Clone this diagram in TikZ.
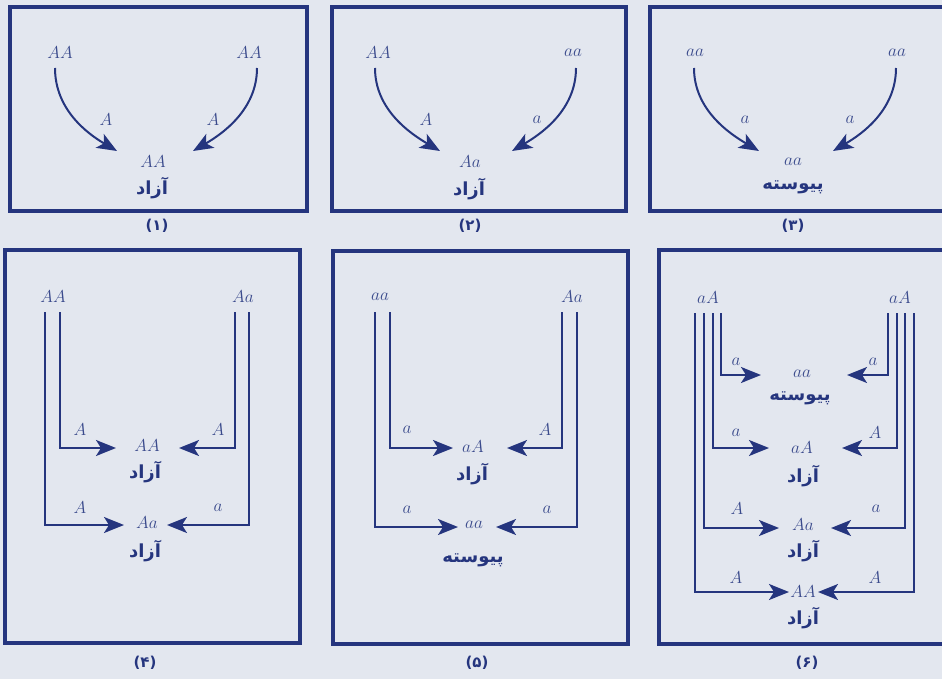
\documentclass[tikz,border=0pt]{standalone}
\usepackage{fontspec}
\usetikzlibrary{arrows.meta}
\TeXXeTstate=1
\newfontfamily\arabicfont[Script=Arabic]{DejaVu Sans}
\newfontfamily\capfont{DejaVu Sans}
\definecolor{navy}{HTML}{25357E}
\definecolor{labc}{HTML}{3A4A8C}
\definecolor{bgc}{HTML}{E3E7EF}
\tikzset{
  panel/.style={draw=navy, line width=3.4pt},
  conn/.style={draw=navy, line width=2pt, -{Stealth[length=20pt,width=16pt,inset=5pt]}},
  lab/.style={text=labc, font=\fontsize{16}{18}\selectfont, inner sep=0pt},
  fa/.style={text=navy, font=\arabicfont\bfseries\fontsize{18}{21}\selectfont, inner sep=0pt},
  capt/.style={text=navy, font=\capfont\bfseries\fontsize{15}{18}\selectfont, inner sep=0pt}
}
\begin{document}
\begin{tikzpicture}[x=1pt,y=-1pt]
\useasboundingbox (0,0) rectangle (942,679);
\fill[bgc] (0,0) rectangle (942,679);

% ---------- panel boxes
\draw[panel] (10,7) rectangle (307,211);
\draw[panel] (332,7) rectangle (626,211);
\draw[panel] (955,7) -- (650,7) -- (650,211) -- (955,211);
\draw[panel] (5,250) rectangle (300,643);
\draw[panel] (333,251) rectangle (628,644);
\draw[panel] (955,250) -- (659,250) -- (659,644) -- (955,644);

% ---------- captions
\node[capt] (cap1) at (157,226) {(۱)};
\node[capt] (cap2) at (470,226) {(۲)};
\node[capt] (cap3) at (793,226) {(۳)};
\node[capt] (cap4) at (145,663) {(۴)};
\node[capt] (cap5) at (477,663) {(۵)};
\node[capt] (cap6) at (807,663) {(۶)};

% ================= panel 1
\node[lab] (p1l) at (60,53) {$AA$};
\node[lab] (p1r) at (249,53) {$AA$};
\node[lab] (p1c) at (153,162) {$AA$};
\node[fa] (p1w) at (152,188) {\beginR آزاد\endR};
\node[lab] (p1la) at (106,120) {$A$};
\node[lab] (p1ra) at (213,120) {$A$};
\coordinate (p1ls) at (55,68);  \coordinate (p1lt) at (117,151);
\coordinate (p1rs) at (257,68); \coordinate (p1rt) at (193,151);
\draw[conn] (p1ls) .. controls (55,110) and (88,134) .. (p1lt);
\draw[conn] (p1rs) .. controls (257,110) and (222,134) .. (p1rt);

% ================= panel 2
\node[lab] (p2l) at (378,53) {$AA$};
\node[lab] (p2r) at (573,53) {$aa$};
\node[lab] (p2c) at (470,162) {$Aa$};
\node[fa] (p2w) at (469,189) {\beginR آزاد\endR};
\node[lab] (p2la) at (426,120) {$A$};
\node[lab] (p2ra) at (537,120) {$a$};
\coordinate (p2ls) at (375,68); \coordinate (p2lt) at (440,151);
\coordinate (p2rs) at (576,68); \coordinate (p2rt) at (512,151);
\draw[conn] (p2ls) .. controls (375,110) and (411,134) .. (p2lt);
\draw[conn] (p2rs) .. controls (576,110) and (541,134) .. (p2rt);

% ================= panel 3
\node[lab] (p3l) at (695,53) {$aa$};
\node[lab] (p3r) at (897,53) {$aa$};
\node[lab] (p3c) at (793,162) {$aa$};
\node[fa] (p3w) at (793,187) {\beginR پیوسته\endR};
\node[lab] (p3la) at (745,120) {$a$};
\node[lab] (p3ra) at (850,120) {$a$};
\coordinate (p3ls) at (694,68); \coordinate (p3lt) at (759,151);
\coordinate (p3rs) at (896,68); \coordinate (p3rt) at (833,151);
\draw[conn] (p3ls) .. controls (694,110) and (730,134) .. (p3lt);
\draw[conn] (p3rs) .. controls (896,110) and (862,134) .. (p3rt);

% ================= panel 4
\node[lab] (p4l) at (53,297) {$AA$};
\node[lab] (p4r) at (243,297) {$Aa$};
\node[lab] (p4c1) at (147,446) {$AA$};
\node[fa] (p4w1) at (145,472) {\beginR آزاد\endR};
\node[lab] (p4c2) at (147,523) {$Aa$};
\node[fa] (p4w2) at (145,551) {\beginR آزاد\endR};
\node[lab] (p4a1) at (80,430) {$A$};
\node[lab] (p4b1) at (218,430) {$A$};
\node[lab] (p4a2) at (80,508) {$A$};
\node[lab] (p4b2) at (218,508) {$a$};
\coordinate (p4L1) at (60,312);  \coordinate (p4T1) at (116,448);
\coordinate (p4L2) at (45,312);  \coordinate (p4T2) at (124,525);
\coordinate (p4R1) at (235,312); \coordinate (p4U1) at (179,448);
\coordinate (p4R2) at (249,312); \coordinate (p4U2) at (167,525);
\draw[conn] (p4L1) |- (p4T1);
\draw[conn] (p4L2) |- (p4T2);
\draw[conn] (p4R1) |- (p4U1);
\draw[conn] (p4R2) |- (p4U2);

% ================= panel 5
\node[lab] (p5l) at (380,297) {$aa$};
\node[lab] (p5r) at (572,297) {$Aa$};
\node[lab] (p5c1) at (473,447) {$aA$};
\node[fa] (p5w1) at (472,474) {\beginR آزاد\endR};
\node[lab] (p5c2) at (474,525) {$aa$};
\node[fa] (p5w2) at (473,560) {\beginR پیوسته\endR};
\node[lab] (p5a1) at (407,430) {$a$};
\node[lab] (p5b1) at (545,430) {$A$};
\node[lab] (p5a2) at (407,510) {$a$};
\node[lab] (p5b2) at (547,510) {$a$};
\coordinate (p5L1) at (390,312); \coordinate (p5T1) at (453,448);
\coordinate (p5L2) at (375,312); \coordinate (p5T2) at (458,527);
\coordinate (p5R1) at (562,312); \coordinate (p5U1) at (507,448);
\coordinate (p5R2) at (577,312); \coordinate (p5U2) at (496,527);
\draw[conn] (p5L1) |- (p5T1);
\draw[conn] (p5L2) |- (p5T2);
\draw[conn] (p5R1) |- (p5U1);
\draw[conn] (p5R2) |- (p5U2);

% ================= panel 6
\node[lab] (p6l) at (708,298) {$aA$};
\node[lab] (p6r) at (900,298) {$aA$};
\node[lab] (p6c1) at (802,374) {$aa$};
\node[fa] (p6w1) at (800,398) {\beginR پیوسته\endR};
\node[lab] (p6c2) at (802,448) {$aA$};
\node[fa] (p6w2) at (803,476) {\beginR آزاد\endR};
\node[lab] (p6c3) at (803,525) {$Aa$};
\node[fa] (p6w3) at (803,551) {\beginR آزاد\endR};
\node[lab] (p6c4) at (803,592) {$AA$};
\node[fa] (p6w4) at (803,618) {\beginR آزاد\endR};
\node[lab] (p6a1) at (736,362) {$a$};
\node[lab] (p6b1) at (873,362) {$a$};
\node[lab] (p6a2) at (736,433) {$a$};
\node[lab] (p6b2) at (875,433) {$A$};
\node[lab] (p6a3) at (737,509) {$A$};
\node[lab] (p6b3) at (876,509) {$a$};
\node[lab] (p6a4) at (736,578) {$A$};
\node[lab] (p6b4) at (875,578) {$A$};
\coordinate (p6L1) at (721,313); \coordinate (p6T1) at (761,375);
\coordinate (p6L2) at (713,313); \coordinate (p6T2) at (769,448);
\coordinate (p6L3) at (704,313); \coordinate (p6T3) at (779,528);
\coordinate (p6L4) at (695,313); \coordinate (p6T4) at (789,592);
\coordinate (p6R1) at (888,313); \coordinate (p6U1) at (847,375);
\coordinate (p6R2) at (897,313); \coordinate (p6U2) at (842,448);
\coordinate (p6R3) at (905,313); \coordinate (p6U3) at (831,528);
\coordinate (p6R4) at (914,313); \coordinate (p6U4) at (818,592);
\draw[conn] (p6L1) |- (p6T1);
\draw[conn] (p6L2) |- (p6T2);
\draw[conn] (p6L3) |- (p6T3);
\draw[conn] (p6L4) |- (p6T4);
\draw[conn] (p6R1) |- (p6U1);
\draw[conn] (p6R2) |- (p6U2);
\draw[conn] (p6R3) |- (p6U3);
\draw[conn] (p6R4) |- (p6U4);
\end{tikzpicture}
\end{document}
